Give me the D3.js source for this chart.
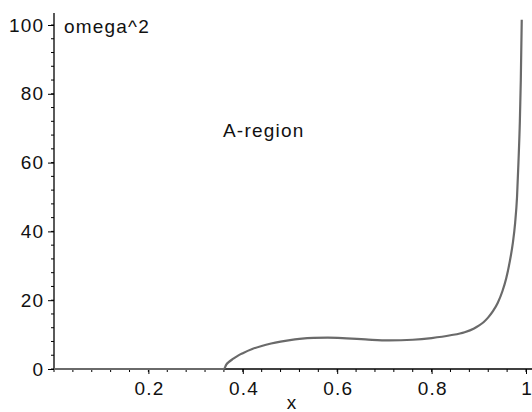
<!DOCTYPE html>
<html>
<head>
<meta charset="utf-8">
<script src="https://cdn.jsdelivr.net/npm/d3@7"></script>
<style>
  html, body { margin: 0; padding: 0; background: #fff; }
  svg { display: block; }
  text { font-family: "Liberation Sans", Arial, Helvetica, sans-serif; fill: #111; letter-spacing: 1.2px; }
</style>
</head>
<body>
<svg id="chart" width="532" height="412"></svg>
<script>
// Dispersion curve omega^2 as a function of x
const xValues = [0, 0.36, 0.365, 0.37, 0.38, 0.39, 0.40, 0.42, 0.44, 0.46, 0.48, 0.50, 0.52, 0.55, 0.58, 0.62, 0.66, 0.71, 0.76, 0.80, 0.84, 0.87, 0.89, 0.90, 0.91, 0.92, 0.93, 0.94, 0.95, 0.958, 0.966, 0.972, 0.977, 0.981, 0.984, 0.987, 0.989, 0.991];
const omega2  = [0, 0,    1.3,   2.0,  3.0,  3.9,  4.6,  5.8,  6.7,  7.4,  7.95, 8.4,  8.75, 9.05, 9.1,  8.9,  8.6,  8.3,  8.5,  9.0,  9.8,  10.7, 11.8, 12.6, 13.6, 15.0, 16.8, 19.2, 22.6, 26.3,  31.5,  36.5,  42.5,  50.0,  60.0,  72.0,  84.0,  101.5];

const xTicks = [0.2, 0.4, 0.6, 0.8, 1];
const yTicks = [0, 20, 40, 60, 80, 100];
const xMinor = d3.range(0, 1.0001, 0.04);
const yMinor = d3.range(0, 100.001, 4);

const svg = d3.select("#chart");
const x = d3.scaleLinear().domain([0, 1]).range([54, 526]);
const y = d3.scaleLinear().domain([0, 100]).range([369, 25]);

// axis lines
svg.append("line").attr("x1", x(0)).attr("x2", 532).attr("y1", y(0)).attr("y2", y(0))
  .attr("stroke", "#000").attr("stroke-width", 1.3);
svg.append("line").attr("x1", x(0)).attr("x2", x(0)).attr("y1", y(0)).attr("y2", y(103.5))
  .attr("stroke", "#000").attr("stroke-width", 1.3);

// minor ticks
svg.append("g").selectAll("line").data(xMinor).join("line")
  .attr("x1", d => x(d)).attr("x2", d => x(d)).attr("y1", y(0)).attr("y2", y(0) + 3)
  .attr("stroke", "#000").attr("stroke-width", 1);
svg.append("g").selectAll("line").data(yMinor).join("line")
  .attr("x1", x(0) - 3).attr("x2", x(0)).attr("y1", d => y(d)).attr("y2", d => y(d))
  .attr("stroke", "#000").attr("stroke-width", 1);

// major ticks + labels
const xAxis = d3.axisBottom(x).tickValues(xTicks).tickFormat(d => d === 1 ? "1" : d3.format(".1f")(d))
  .tickSize(5).tickPadding(8);
const gx = svg.append("g").attr("transform", `translate(0,${y(0)})`).call(xAxis);
gx.select(".domain").remove();
gx.selectAll("text").attr("font-size", 19).attr("fill", "#111").attr("dx", "0.6")
  .style("font-family", "'Liberation Sans', Arial, sans-serif");

const yAxis = d3.axisLeft(y).tickValues(yTicks).tickSize(6).tickPadding(5);
const gy = svg.append("g").attr("transform", `translate(${x(0)},0)`).call(yAxis);
gy.select(".domain").remove();
gy.selectAll("text").attr("font-size", 19).attr("fill", "#111").attr("dx", "1.2")
  .style("font-family", "'Liberation Sans', Arial, sans-serif");

// curve
const line = d3.line().x((d, i) => x(xValues[i])).y(d => y(d)).curve(d3.curveMonotoneX);
svg.append("path").datum(omega2).attr("d", line)
  .attr("fill", "none").attr("stroke", "#6a6a6a").attr("stroke-width", 2.2);

// labels
svg.append("text").attr("x", 64).attr("y", 33).attr("font-size", 19).text("omega^2");
svg.append("text").attr("x", 223).attr("y", 137).attr("font-size", 19).text("A-region");
svg.append("text").attr("x", 292).attr("y", 409).attr("font-size", 19).attr("text-anchor", "middle").text("x");
</script>
</body>
</html>
